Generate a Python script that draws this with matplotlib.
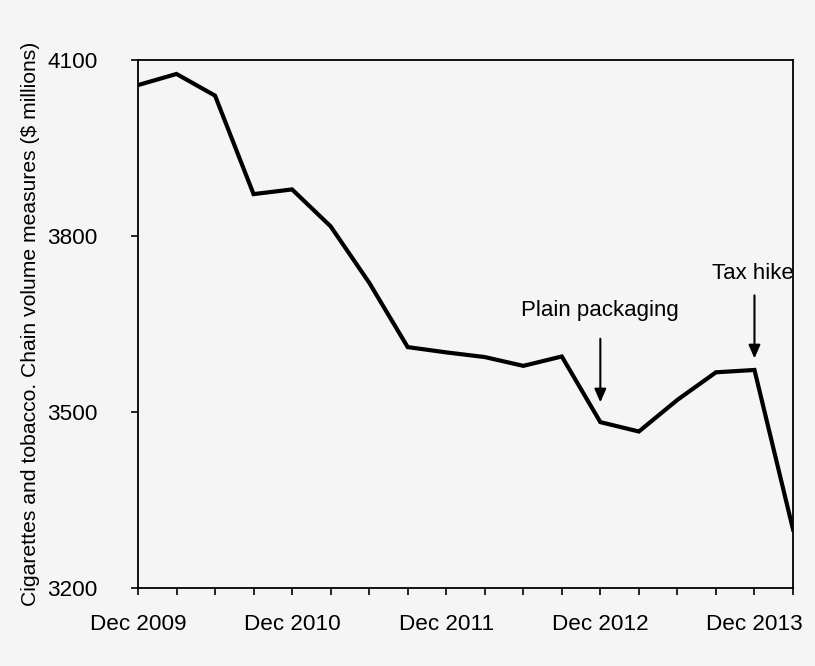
import matplotlib.pyplot as plt

quarters = ['Dec 2009', 'Mar 2010', 'Jun 2010', 'Sep 2010', 'Dec 2010', 'Mar 2011',
            'Jun 2011', 'Sep 2011', 'Dec 2011', 'Mar 2012', 'Jun 2012', 'Sep 2012',
            'Dec 2012', 'Mar 2013', 'Jun 2013', 'Sep 2013', 'Dec 2013', 'Mar 2014']
volume = [4058, 4077, 4040, 3872, 3880, 3817, 3721, 3611, 3602,
          3594, 3579, 3595, 3483, 3467, 3521, 3568, 3572, 3300]
yticks = [3200, 3500, 3800, 4100]

bg = '#f5f5f5'
plt.rcParams['font.family'] = ['Liberation Sans', 'DejaVu Sans']

fig = plt.figure(figsize=(8.15, 6.66), dpi=100, facecolor=bg)
ax = fig.add_axes([0.1693, 0.1171, 0.8037, 0.7921], facecolor=bg)

x = list(range(len(quarters)))
ax.plot(x, volume, color='black', linewidth=3, solid_joinstyle='miter')

ax.set_xlim(0, len(quarters) - 1)
ax.set_ylim(3200, 4100)
ax.set_yticks(yticks)
ax.set_xticks(x)
ax.set_xticklabels([q if q.startswith('Dec') else '' for q in quarters])
ax.tick_params(axis='both', direction='out', length=5, width=1.2, labelsize=16.2)
ax.tick_params(axis='x', pad=14)
ax.tick_params(axis='y', pad=24)
for s in ax.spines.values():
    s.set_linewidth(1.3)

ax.set_ylabel('Cigarettes and tobacco. Chain volume measures ($ millions)',
              fontsize=15.2, labelpad=5)

# annotations
arrow = dict(arrowstyle='-|>,head_length=0.8,head_width=0.35', color='black', lw=1.5)
ax.annotate('', xy=(12, 3512), xytext=(12, 3630), arrowprops=arrow)
ax.text(12, 3674, 'Plain packaging', fontsize=16, ha='center', va='center')
ax.annotate('', xy=(16, 3587), xytext=(16, 3704), arrowprops=arrow)
ax.text(15.95, 3736, 'Tax hike', fontsize=16, ha='center', va='center')

fig.savefig('out.png', dpi=100, facecolor=bg)
